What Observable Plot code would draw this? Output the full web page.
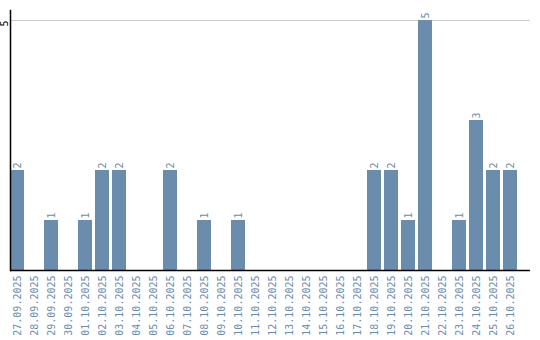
<!DOCTYPE html>
<html><head><meta charset="utf-8">
<script src="https://cdn.jsdelivr.net/npm/d3@7"></script>
<script src="https://cdn.jsdelivr.net/npm/@observablehq/plot@0.6"></script>
<style>body{margin:0;background:#fff}</style>
</head><body><div id="chart"></div>
<script>
const dates = ["27.09.2025","28.09.2025","29.09.2025","30.09.2025","01.10.2025","02.10.2025","03.10.2025","04.10.2025","05.10.2025","06.10.2025","07.10.2025","08.10.2025","09.10.2025","10.10.2025","11.10.2025","12.10.2025","13.10.2025","14.10.2025","15.10.2025","16.10.2025","17.10.2025","18.10.2025","19.10.2025","20.10.2025","21.10.2025","22.10.2025","23.10.2025","24.10.2025","25.10.2025","26.10.2025"];
const counts = [2,0,1,0,1,2,2,0,0,2,0,1,0,1,0,0,0,0,0,0,0,2,2,1,5,0,1,3,2,2];
const yTicks = [5];
const data = dates.map((d, i) => ({date: d, count: counts[i]}));
const barColor = "#6a8cad";
const chart = Plot.plot({
  width: 540, height: 340,
  marginLeft: 10, marginRight: 10, marginTop: 10, marginBottom: 70,
  style: {fontFamily: "DejaVu Sans Mono", fontSize: "10px", background: "#fff"},
  x: {domain: dates, paddingInner: 3/17, paddingOuter: 0.382, align: 0, axis: null},
  y: {domain: [0, 5.2], axis: null},
  marks: [
    Plot.ruleY(yTicks, {stroke: "#ccc"}),
    Plot.barY(data, {x: "date", y: "count", fill: barColor}),
    Plot.text(data.filter(d => d.count > 0), {x: "date", y: "count", text: d => String(d.count), rotate: -90, textAnchor: "start", dy: -2, fill: barColor}),
    Plot.axisX({tickSize: 0, tickRotate: -90, tickPadding: 5, fill: barColor, label: null}),
    Plot.axisY(yTicks, {tickSize: 0, tickRotate: -90, tickFormat: "d", tickPadding: 3, dy: 3, label: null, fill: "#000"}),
    Plot.frame({anchor: "left", stroke: "#000", strokeWidth: 1.5}),
    Plot.ruleY([0], {stroke: "#000", strokeWidth: 1.5})
  ]
});
document.getElementById("chart").appendChild(chart);
</script>
</body></html>
